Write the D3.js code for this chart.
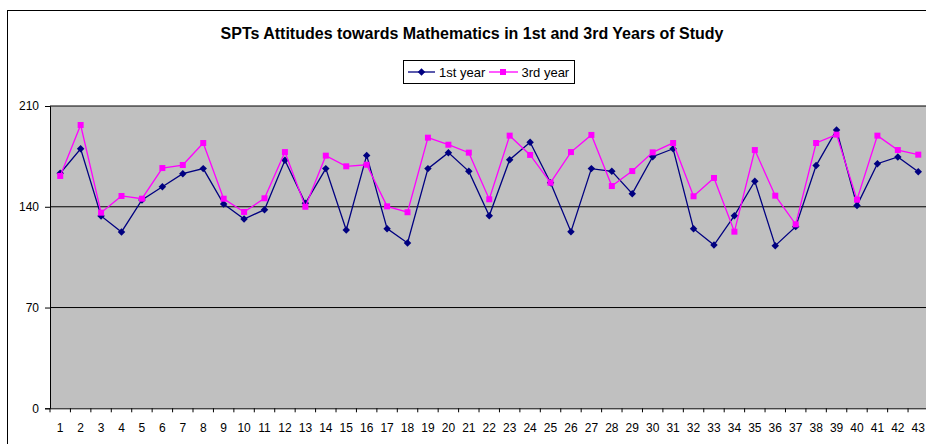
<!DOCTYPE html>
<html>
<head>
<meta charset="utf-8">
<script src="https://cdn.jsdelivr.net/npm/d3@7"></script>
<style>
  html, body { margin: 0; padding: 0; background: #fff; }
  svg { display: block; font-family: Arial, "Liberation Sans", sans-serif; }
</style>
</head>
<body>
<svg id="chart" width="926" height="444"></svg>
<script>
const categories = d3.range(1, 44).map(String);
const firstYear = [163.3,180.3,133.6,122.5,144.7,153.9,163.0,166.5,141.9,131.5,138.0,172.3,142.4,166.5,123.9,175.7,124.8,114.8,166.5,177.6,164.6,133.8,172.7,184.8,156.7,122.7,166.5,164.6,149.1,174.8,180.3,124.8,113.4,133.8,157.7,113.0,126.2,168.6,193.3,140.8,169.9,174.6,164.3];
const thirdYear = [161.4,196.8,135.9,147.5,145.6,166.9,169.0,184.3,145.6,136.4,145.9,178.0,140.0,175.5,168.1,169.2,140.3,136.2,188.0,183.1,177.6,145.2,189.4,176.0,156.7,178.0,189.9,154.4,164.8,177.8,184.3,147.3,160.0,122.7,179.4,147.7,127.8,184.3,190.1,144.9,189.4,179.4,176.2];
const yTicks = [0, 70, 140, 210];
const seriesNames = ["1st year", "3rd year"];

(function () {
const svg = d3.select("#chart");

// outer chart border
svg.append("rect").attr("x", 7.5).attr("y", 10.5).attr("width", 940).attr("height", 440)
  .attr("fill", "#fff").attr("stroke", "#000").attr("stroke-width", 1);

const pLeft = 50, pTop = 106, pBottom = 408.3, bw = 20.43;
const pRight = pLeft + bw * categories.length;
const x = d3.scaleBand().domain(categories).range([pLeft, pRight]).padding(0);
const y = d3.scaleLinear().domain([0, 210]).range([pBottom, pTop]);

// plot area
svg.append("rect").attr("x", pLeft).attr("y", pTop)
  .attr("width", pRight - pLeft).attr("height", pBottom - pTop)
  .attr("fill", "#c0c0c0");

// gridlines
svg.append("g").selectAll("line").data(yTicks.filter(d => d > 0)).join("line")
  .attr("x1", pLeft).attr("x2", pRight)
  .attr("y1", d => y(d)).attr("y2", d => y(d))
  .attr("stroke", "#000").attr("stroke-width", 1);

// y axis
const yAxis = svg.append("g").attr("transform", `translate(${pLeft},0)`)
  .call(d3.axisLeft(y).tickValues(yTicks).tickSize(5).tickPadding(6).tickFormat(d3.format("d")));
yAxis.select(".domain").attr("stroke", "#000");
yAxis.selectAll("text").attr("font-size", 12).attr("fill", "#000")
  .attr("font-family", "Arial, 'Liberation Sans', sans-serif");

// x axis
const xAxis = svg.append("g").attr("transform", `translate(0,${pBottom})`)
  .call(d3.axisBottom(x).tickSizeInner(0).tickSizeOuter(0).tickPadding(15));
xAxis.select(".domain").attr("stroke", "#000");
xAxis.selectAll("text").attr("font-size", 12).attr("fill", "#000")
  .attr("font-family", "Arial, 'Liberation Sans', sans-serif");
// boundary tick marks
svg.append("g").selectAll("line").data(categories).join("line")
  .attr("x1", d => x(d)).attr("x2", d => x(d))
  .attr("y1", pBottom).attr("y2", pBottom + 4)
  .attr("stroke", "#000");

const squareDiamond = {
  draw(ctx, size) {
    const r = Math.sqrt(size / 2);
    ctx.moveTo(0, -r); ctx.lineTo(r, 0); ctx.lineTo(0, r); ctx.lineTo(-r, 0); ctx.closePath();
  }
};
const colors = ["#000080", "#ff00ff"];
const symbols = [squareDiamond, d3.symbolSquare];
const sizes = [28, 36];
const series = [firstYear, thirdYear];

const line = d3.line()
  .x((d, i) => x(categories[i]) + x.bandwidth() / 2)
  .y(d => y(d));

series.forEach((vals, si) => {
  const g = svg.append("g");
  g.append("path").datum(vals).attr("d", line)
    .attr("fill", "none").attr("stroke", colors[si]).attr("stroke-width", 1.3);
  g.selectAll("path.m").data(vals).join("path").attr("class", "m")
    .attr("transform", (d, i) => `translate(${x(categories[i]) + x.bandwidth() / 2},${y(d)})`)
    .attr("d", d3.symbol().type(symbols[si]).size(sizes[si]))
    .attr("fill", colors[si]);
});

// title
svg.append("text").attr("x", 472).attr("y", 39).attr("text-anchor", "middle")
  .attr("font-size", 16).attr("font-weight", "bold").attr("fill", "#000")
  .text("SPTs Attitudes towards Mathematics in 1st and 3rd Years of Study");

// legend
const lg = svg.append("g");
lg.append("rect").attr("x", 403.5).attr("y", 60.5).attr("width", 171).attr("height", 23)
  .attr("fill", "#fff").attr("stroke", "#000");
const legendItems = [
  { lx1: 408, lx2: 435, mx: 421.5, tx: 439 },
  { lx1: 489, lx2: 518, mx: 503, tx: 521.5 }
];
legendItems.forEach((it, si) => {
  lg.append("line").attr("x1", it.lx1).attr("x2", it.lx2).attr("y1", 72).attr("y2", 72)
    .attr("stroke", colors[si]).attr("stroke-width", 1.3);
  lg.append("path").attr("transform", `translate(${it.mx},72)`)
    .attr("d", d3.symbol().type(symbols[si]).size(sizes[si])).attr("fill", colors[si]);
  lg.append("text").attr("x", it.tx).attr("y", 76.5).attr("font-size", 13).attr("fill", "#000")
    .text(seriesNames[si]);
});
})();
</script>
</body>
</html>
